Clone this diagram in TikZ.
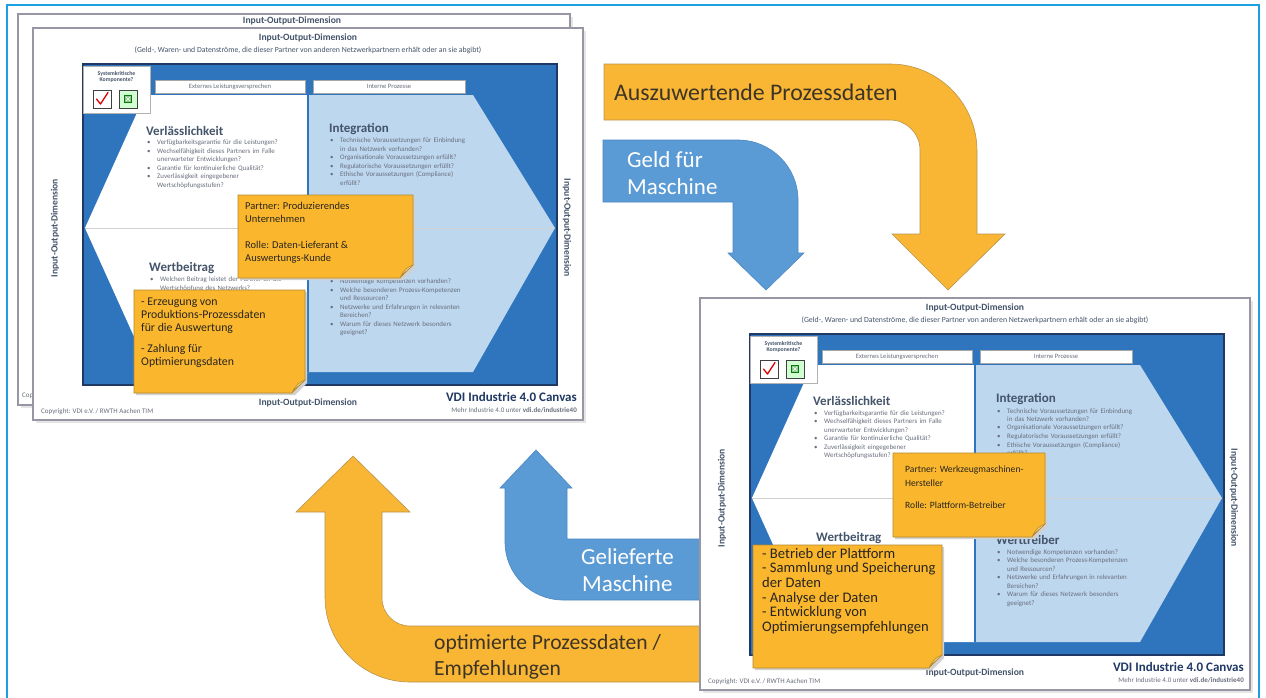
\documentclass[tikz,border=0pt]{standalone}
\usepackage{fontspec}
\setmainfont{Carlito}

\definecolor{framecyan}{RGB}{27,161,226}
\definecolor{orangef}{RGB}{249,182,52}
\definecolor{orangel}{RGB}{185,148,80}
\definecolor{bluef}{RGB}{91,155,213}
\definecolor{bluel}{RGB}{75,135,195}
\definecolor{cvblue}{RGB}{46,117,190}
\definecolor{cvnavy}{RGB}{31,56,100}
\definecolor{cvlight}{RGB}{189,215,238}
\definecolor{notef}{RGB}{250,183,46}
\definecolor{notel}{RGB}{180,135,45}
\definecolor{notefold}{RGB}{238,205,130}
\definecolor{headcol}{RGB}{68,84,106}
\definecolor{bulgray}{RGB}{105,110,125}
\definecolor{sheetline}{RGB}{150,150,165}
\definecolor{notetext}{RGB}{40,36,30}
\definecolor{arrowtext}{RGB}{60,52,38}

\newcommand\fs[2]{\fontsize{#1}{#2}\selectfont}
\newcommand\nohyph{\hyphenpenalty=10000\exhyphenpenalty=10000}
\newcommand\bl[1]{\noindent\hangindent=10pt\hangafter=1\makebox[10pt][l]{\textbullet}#1\par}

\tikzset{
  sheet/.style={draw=sheetline, line width=1.2pt, fill=white},
  sheetshadow/.style={fill=black!10},
  ttl/.style={font=\fs{9.6}{10}\bfseries, text=headcol, inner sep=0pt},
  subt/.style={font=\fs{7.8}{8}, text=headcol, inner sep=0pt},
  tab/.style={draw=black!35, fill=white, minimum width=150pt, minimum height=13pt,
    inner sep=0pt, font=\fs{6.6}{7}, text=bulgray},
  ckl/.style={font=\fs{5.8}{6.4}\bfseries, text=headcol, align=center, inner sep=0pt},
  head/.style={anchor=west, font=\fs{13}{14}\bfseries, text=headcol, inner sep=0pt},
  bul/.style={anchor=north west, text width=140pt, align=left, inner sep=0pt,
    font=\fs{6.9}{8.5}\nohyph, text=bulgray},
  side/.style={font=\fs{9.6}{10}\bfseries, text=headcol, inner sep=0pt},
  vdi/.style={anchor=east, font=\fs{13}{14}\bfseries, text=cvnavy, inner sep=0pt},
  tiny/.style={font=\fs{7}{8}, text=bulgray, inner sep=0pt},
  notebox/.style={fill=notef, draw=notel, line width=0.6pt},
  notetxt/.style={anchor=north west, align=left, inner sep=0pt, text=notetext},
  orangearrow/.style={fill=orangef, draw=orangel, line width=0.6pt},
  bluearrow/.style={fill=bluef, draw=bluel, line width=0.6pt},
  alab/.style={anchor=base west, text=arrowtext, inner sep=0pt},
  alabw/.style={anchor=base west, text=white, inner sep=0pt},
}

% one printed VDI Industrie 4.0 Canvas sheet, placed with its top left corner at (#1,#2);
% #4 = 1 prints the "Werttreiber" heading, #5 = 1 prints the "Wertbeitrag" question
\newcommand\vdicanvas[5]{%
\begin{scope}[shift={(#1,#2)}]
  \fill[sheetshadow] (3,3) rectangle (553,395);
  \draw[sheet] (0,0) rectangle (550,392);
  \node[ttl] (#3-ttl) at (275,10) {Input-Output-Dimension};
  \node[subt] (#3-sub) at (275,22) {(Geld-, Waren- und Datenströme, die dieser Partner von anderen Netzwerkpartnern erhält oder an sie abgibt)};
  % blue field with the white and light blue halves of the hexagon
  \filldraw[fill=cvblue, draw=cvnavy, line width=1.3pt] (50,36) rectangle (524,357);
  \fill[white] (275,67) -- (112,67) -- (52,200) -- (117,344) -- (275,344) -- cycle;
  \fill[cvlight] (275,67) -- (440,67) -- (522,200) -- (440,344) -- (275,344) -- cycle;
  \draw[black!18, line width=0.8pt] (52,200) -- (522,200);
  \draw[cvblue, line width=1.6pt] (275,67) -- (275,344);
  % header tabs
  \node[tab] (#3-tab1) at (197,58.5) {Externes Leistungsversprechen};
  \node[tab, minimum width=152pt] (#3-tab2) at (356,58.5) {Interne Prozesse};
  % system-critical component box
  \filldraw[fill=white, draw=black!30, line width=0.6pt] (50,38) rectangle (117,85);
  \node[ckl] (#3-ckl) at (83.5,49) {Systemkritische\\Komponente?};
  \filldraw[fill=white, draw=black!75, line width=0.9pt] (60,62) rectangle (78,80);
  \draw[red!85!black, line width=1.3pt, line cap=round, line join=round] (63.5,71) -- (67.5,76) -- (75,64.5);
  \filldraw[fill=green!18, draw=black!75, line width=0.9pt] (86,62) rectangle (104,80);
  \filldraw[fill=green!45!black!40, draw=green!50!black, line width=0.4pt] (91.5,67.5) rectangle (98.5,74.5);
  \draw[white, line width=0.6pt] (93,69) -- (97,73) (93,73) -- (97,69);
  % quadrant headings and guiding questions
  \node[head] (#3-h1) at (113,103) {Verlässlichkeit};
  \node[bul] (#3-b1) at (114,112) {%
    \bl{Verfügbarkeitsgarantie für die Leistungen?}%
    \bl{Wechselfähigkeit dieses Partners im Falle unerwarteter Entwicklungen?}%
    \bl{Garantie für kontinuierliche Qualität?}%
    \bl{Zuverlässigkeit eingegebener Wertschöpfungsstufen?}};
  \node[head] (#3-h2) at (296,101) {Integration};
  \node[bul] (#3-b2) at (297,110) {%
    \bl{Technische Voraussetzungen für Einbindung in das Netzwerk vorhanden?}%
    \bl{Organisationale Voraussetzungen erfüllt?}%
    \bl{Regulatorische Voraussetzungen erfüllt?}%
    \bl{Ethische Voraussetzungen (Compliance) erfüllt?}};
  \node[head] (#3-h3) at (116,240) {Wertbeitrag};
  \ifnum#5=1
  \node[bul] (#3-b3) at (117,249) {%
    \bl{Welchen Beitrag leistet der Partner an die Wertschöpfung des Netzwerks?}};
  \fi
  \ifnum#4=1
  \node[head] (#3-h4) at (296,242) {Werttreiber};
  \fi
  \node[bul] (#3-b4) at (297,251) {%
    \bl{Notwendige Kompetenzen vorhanden?}%
    \bl{Welche besonderen Prozess-Kompetenzen und Ressourcen?}%
    \bl{Netzwerke und Erfahrungen in relevanten Bereichen?}%
    \bl{Warum für dieses Netzwerk besonders geeignet?}};
  % margins
  \node[side, rotate=90] (#3-left) at (22,200) {Input-Output-Dimension};
  \node[side, rotate=-90] (#3-right) at (534,200) {Input-Output-Dimension};
  \node[ttl] (#3-bottom) at (275,375) {Input-Output-Dimension};
  \node[vdi] (#3-vdi) at (544,369) {VDI Industrie 4.0 Canvas};
  \node[tiny, anchor=east] (#3-more) at (544,382) {Mehr Industrie 4.0 unter \textbf{vdi.de/industrie40}};
  \node[tiny, anchor=west] (#3-copy) at (8,384) {Copyright: VDI e.V. / RWTH Aachen TIM};
\end{scope}}

% sticky note with a curled lower right corner
\newcommand\stickynote[4]{%
  \fill[black!18] (#1+2,#2+2) -- (#3+2,#2+2) -- (#3+2,#4-10) -- (#3-10,#4+2) -- (#1+2,#4+2) -- cycle;
  \filldraw[notebox] (#1,#2) -- (#3,#2) -- (#3,#4-13) -- (#3-13,#4) -- (#1,#4) -- cycle;
  \filldraw[fill=notefold, draw=notel, line width=0.5pt]
    (#3,#4-13) .. controls (#3-5,#4-11) and (#3-9,#4-9) .. (#3-13,#4)
    .. controls (#3-11,#4-5) and (#3-6,#4-6) .. cycle;
}

\begin{document}
\begin{tikzpicture}[x=1pt,y=-1pt]
\useasboundingbox (0,0) rectangle (1266,697);
\fill[white] (0,0) rectangle (1266,697);
\draw[framecyan, line width=1.6pt] (7,700) -- (7,5) -- (1259,5) -- (1259,700);

% sheet lying behind the first canvas
\fill[sheetshadow] (21,17) rectangle (573,408);
\draw[sheet] (18,14) rectangle (570,405);
\node[ttl] (back-ttl) at (292,21) {Input-Output-Dimension};
\node[tiny, anchor=west] (back-copy) at (22,396) {Copyright: VDI e.V. / RWTH Aachen TIM};

% canvas of the producing company
\vdicanvas{33}{28}{prod}{0}{1}
\stickynote{238}{195}{413}{278}
\node[notetxt, font=\fs{10.5}{13}] (prod-partner) at (245,202)
  {Partner: Produzierendes\\Unternehmen\\[13pt]Rolle: Daten-Lieferant \&\\Auswertungs-Kunde};
\stickynote{134}{290}{305}{393}
\node[notetxt, font=\fs{11.8}{13}] (prod-value) at (141,298)
  {- Erzeugung von\\Produktions-Prozessdaten\\für die Auswertung\\[8pt]- Zahlung für\\Optimierungsdaten};

% flows between the two partners
\filldraw[orangearrow] (604,64) -- (890,64) .. controls (938,64) and (977,103) .. (977,151)
  -- (977,234) -- (1005,234) -- (948,290) -- (892,234) -- (920,234) -- (920,150)
  .. controls (920,133.4) and (906.6,120) .. (890,120) -- (604,120) -- cycle;
\node[alab, font=\fs{23.8}{26}] (data-out) at (614,100) {Auszuwertende Prozessdaten};

\filldraw[bluearrow] (603,140) -- (738,140) .. controls (771.1,140) and (798,166.9) .. (798,200)
  -- (798,253) -- (804,253) -- (766,290) -- (728,253) -- (733,253) -- (733,202) -- (603,202) -- cycle;
\node[alabw, font=\fs{23}{26}] (money-1) at (627,167) {Geld für};
\node[alabw, font=\fs{23}{26}] (money-2) at (627,194) {Maschine};

\filldraw[orangearrow] (715,626) -- (410,626) .. controls (394.5,626) and (382,613.5) .. (382,598)
  -- (382,512) -- (410,512) -- (353,456) -- (296,512) -- (325,512) -- (325,597)
  .. controls (325,644) and (363,682) .. (410,682) -- (715,682) -- cycle;
\node[alab, font=\fs{21.6}{26}] (data-back-1) at (434,649) {optimierte Prozessdaten /};
\node[alab, font=\fs{21.6}{26}] (data-back-2) at (434,675) {Empfehlungen};

\filldraw[bluearrow] (715,539) -- (567,539) -- (567,488) -- (572,488) -- (536,450) -- (500,488)
  -- (505,488) -- (505,542) .. controls (505,574) and (531,600) .. (563,600) -- (715,600) -- cycle;
\node[alabw, font=\fs{23}{26}] (machine-1) at (581,564) {Gelieferte};
\node[alabw, font=\fs{23}{26}] (machine-2) at (582,591) {Maschine};

% canvas of the machine tool manufacturer
\vdicanvas{700}{298}{mach}{1}{0}
\stickynote{893}{453}{1045}{537}
\node[notetxt, font=\fs{9.6}{13.5}] (mach-partner) at (905,466)
  {Partner: Werkzeugmaschinen-\\Hersteller\\[9pt]Rolle: Plattform-Betreiber};
\stickynote{753}{545}{942}{668}
\node[notetxt, font=\fs{14.6}{14.6}] (mach-value) at (762,548)
  {- Betrieb der Plattform\\- Sammlung und Speicherung\\der Daten\\- Analyse der Daten\\- Entwicklung von\\Optimierungsempfehlungen};
\end{tikzpicture}
\end{document}
